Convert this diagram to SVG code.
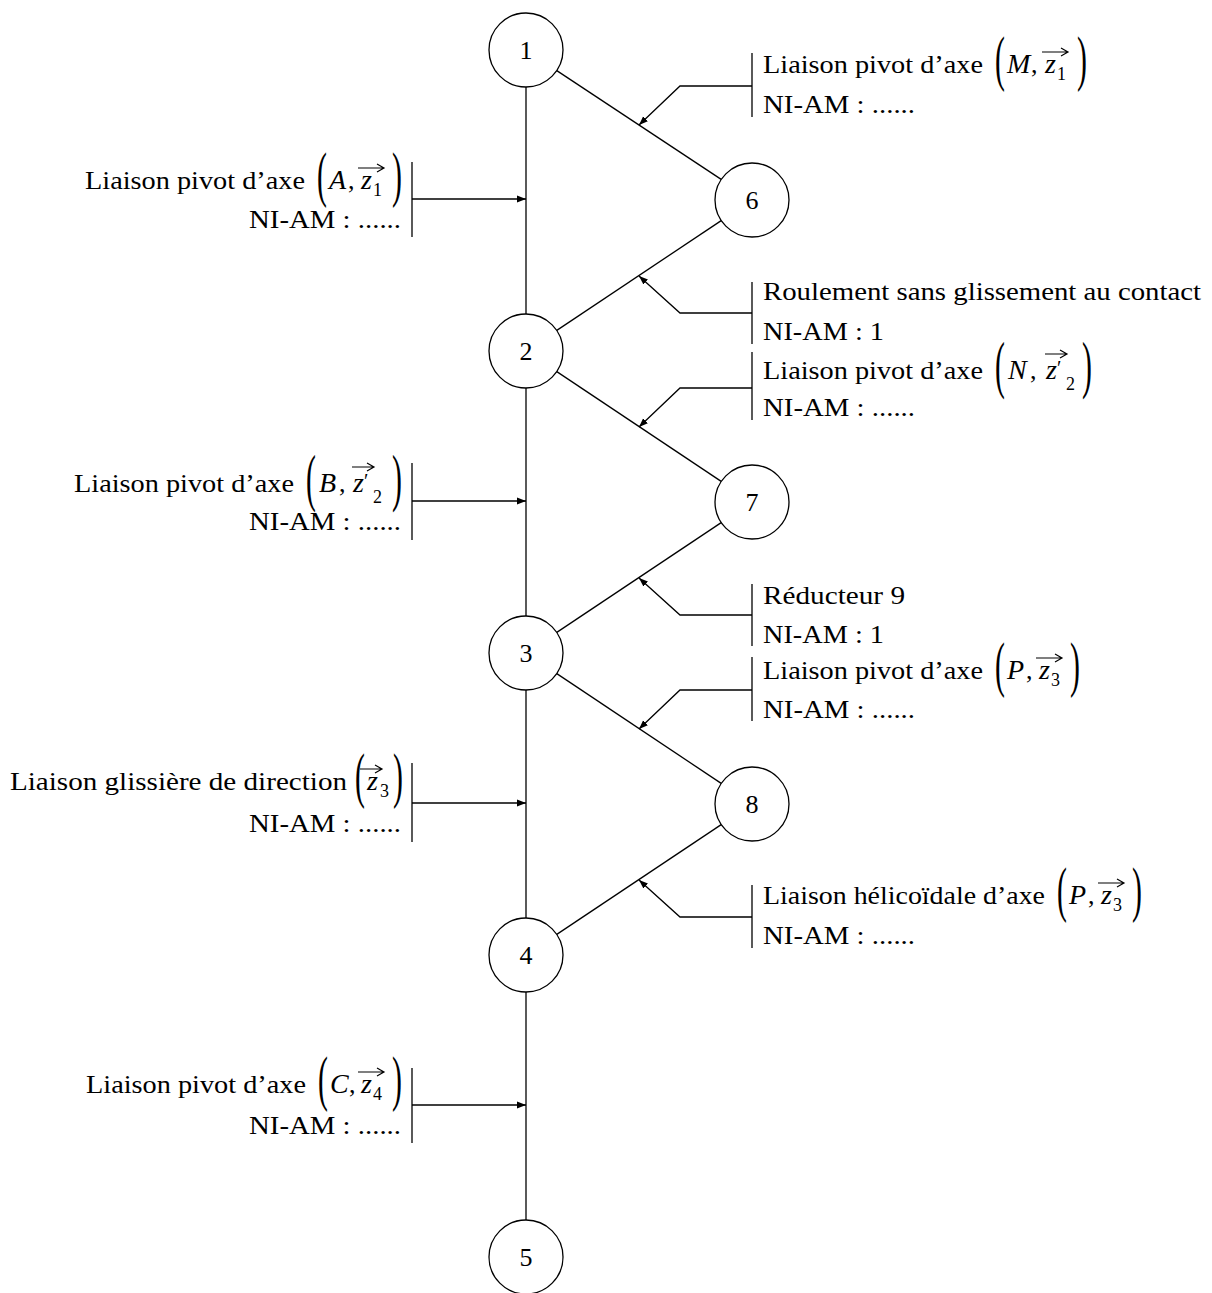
<svg xmlns="http://www.w3.org/2000/svg" width="1212" height="1293" viewBox="0 0 1212 1293">
<style>
text { font-family: "Liberation Serif", "Times New Roman", serif; font-size: 26px; fill: #000; }
.mi { font-style: italic; font-size: 28px; }
.sub { font-size: 18px; }
.par { font-size: 35px; }
.pr { font-size: 20px; }
.num { font-size: 26px; text-anchor: middle; }
.end { text-anchor: end; }
.ln { stroke: #000; stroke-width: 1.3; fill: none; }
.br { stroke: #000; stroke-width: 1.3; }
.vec { stroke: #000; stroke-width: 1.2; fill: none; }
.nd circle { fill: #fff; stroke: #000; stroke-width: 1.3; }
</style>
<defs>
<marker id="ah" markerUnits="userSpaceOnUse" markerWidth="10" markerHeight="8" refX="9" refY="4" orient="auto">
<path d="M0,0.6 L9,4 L0,7.4 Z" fill="#000"/>
</marker>
</defs>

<g id="connectors">
<line class="ln" x1="526" y1="87" x2="526" y2="314"/>
<line class="ln" x1="526" y1="388" x2="526" y2="616"/>
<line class="ln" x1="526" y1="690" x2="526" y2="918"/>
<line class="ln" x1="526" y1="992" x2="526" y2="1220"/>
<line class="ln" x1="556.8" y1="70.6" x2="721.2" y2="179.4"/>
<line class="ln" x1="721.2" y1="220.6" x2="556.8" y2="330.4"/>
<line class="ln" x1="556.8" y1="371.6" x2="721.2" y2="481.4"/>
<line class="ln" x1="721.2" y1="522.6" x2="556.8" y2="632.4"/>
<line class="ln" x1="556.8" y1="673.6" x2="721.2" y2="783.4"/>
<line class="ln" x1="721.2" y1="824.6" x2="556.8" y2="934.4"/>
<path class="ln" d="M752,86 H680 L639,125" marker-end="url(#ah)"/>
<path class="ln" d="M752,313 H680 L639,276" marker-end="url(#ah)"/>
<path class="ln" d="M752,388 H680 L639,427" marker-end="url(#ah)"/>
<path class="ln" d="M752,615 H680 L639,578" marker-end="url(#ah)"/>
<path class="ln" d="M752,690 H680 L639,729" marker-end="url(#ah)"/>
<path class="ln" d="M752,917 H680 L639,880" marker-end="url(#ah)"/>
<path class="ln" d="M412,199 H526" marker-end="url(#ah)"/>
<path class="ln" d="M412,501 H526" marker-end="url(#ah)"/>
<path class="ln" d="M412,803 H526" marker-end="url(#ah)"/>
<path class="ln" d="M412,1105 H526" marker-end="url(#ah)"/>
</g>

<g id="n1" class="nd"><circle cx="526" cy="50" r="37"/><text class="num" x="526" y="59">1</text></g>
<g id="n2" class="nd"><circle cx="526" cy="351" r="37"/><text class="num" x="526" y="360">2</text></g>
<g id="n3" class="nd"><circle cx="526" cy="653" r="37"/><text class="num" x="526" y="662">3</text></g>
<g id="n4" class="nd"><circle cx="526" cy="955" r="37"/><text class="num" x="526" y="964">4</text></g>
<g id="n5" class="nd"><circle cx="526" cy="1257" r="37"/><text class="num" x="526" y="1266">5</text></g>
<g id="n6" class="nd"><circle cx="752" cy="200" r="37"/><text class="num" x="752" y="209">6</text></g>
<g id="n7" class="nd"><circle cx="752" cy="502" r="37"/><text class="num" x="752" y="511">7</text></g>
<g id="n8" class="nd"><circle cx="752" cy="804" r="37"/><text class="num" x="752" y="813">8</text></g>

<g id="lab-1-6">
<line class="br" x1="752" y1="53" x2="752" y2="117"/>
<text x="763" y="73" textLength="220" lengthAdjust="spacingAndGlyphs">Liaison pivot d’axe</text>
<text class="par" transform="translate(995,79) scale(0.85,1.75)">(</text>
<text class="mi" x="1007" y="73">M</text>
<text x="1031" y="73">,</text>
<text class="mi" x="1045" y="73">z</text>
<text class="sub" x="1057" y="80">1</text>
<path class="vec" d="M1042,52 H1068 M1061,48 L1068,52 L1061,56"/>
<text class="par" transform="translate(1077,79) scale(0.85,1.75)">)</text>
<text x="763" y="113" textLength="152" lengthAdjust="spacingAndGlyphs">NI-AM : ......</text>
</g>

<g id="lab-6-2">
<line class="br" x1="752" y1="282" x2="752" y2="344"/>
<text x="763" y="300" textLength="438" lengthAdjust="spacingAndGlyphs">Roulement sans glissement au contact</text>
<text x="763" y="340" textLength="121" lengthAdjust="spacingAndGlyphs">NI-AM : 1</text>
</g>

<g id="lab-2-7">
<line class="br" x1="752" y1="352" x2="752" y2="420"/>
<text x="763" y="379" textLength="220" lengthAdjust="spacingAndGlyphs">Liaison pivot d’axe</text>
<text class="par" transform="translate(995,386) scale(0.85,1.8)">(</text>
<text class="mi" x="1008" y="379">N</text>
<text x="1030" y="379">,</text>
<text class="mi" x="1046" y="379">z</text>
<text class="pr" x="1057" y="375">′</text>
<text class="sub" x="1066" y="390">2</text>
<path class="vec" d="M1045,354 H1067 M1060,350 L1067,354 L1060,358"/>
<text class="par" transform="translate(1082,386) scale(0.85,1.8)">)</text>
<text x="763" y="416" textLength="152" lengthAdjust="spacingAndGlyphs">NI-AM : ......</text>
</g>

<g id="lab-7-3">
<line class="br" x1="752" y1="584" x2="752" y2="646"/>
<text x="763" y="604" textLength="142" lengthAdjust="spacingAndGlyphs">Réducteur 9</text>
<text x="763" y="643" textLength="121" lengthAdjust="spacingAndGlyphs">NI-AM : 1</text>
</g>

<g id="lab-3-8">
<line class="br" x1="752" y1="657" x2="752" y2="721"/>
<text x="763" y="679" textLength="220" lengthAdjust="spacingAndGlyphs">Liaison pivot d’axe</text>
<text class="par" transform="translate(995,685) scale(0.85,1.75)">(</text>
<text class="mi" x="1007" y="679">P</text>
<text x="1026" y="679">,</text>
<text class="mi" x="1039" y="679">z</text>
<text class="sub" x="1051" y="686">3</text>
<path class="vec" d="M1036,658 H1062 M1055,654 L1062,658 L1055,662"/>
<text class="par" transform="translate(1070,685) scale(0.85,1.75)">)</text>
<text x="763" y="718" textLength="152" lengthAdjust="spacingAndGlyphs">NI-AM : ......</text>
</g>

<g id="lab-8-4">
<line class="br" x1="752" y1="885" x2="752" y2="948"/>
<text x="763" y="904" textLength="282" lengthAdjust="spacingAndGlyphs">Liaison hélicoïdale d’axe</text>
<text class="par" transform="translate(1057,910) scale(0.85,1.75)">(</text>
<text class="mi" x="1069" y="904">P</text>
<text x="1088" y="904">,</text>
<text class="mi" x="1101" y="904">z</text>
<text class="sub" x="1113" y="911">3</text>
<path class="vec" d="M1098,883 H1124 M1117,879 L1124,883 L1117,887"/>
<text class="par" transform="translate(1132,910) scale(0.85,1.75)">)</text>
<text x="763" y="944" textLength="152" lengthAdjust="spacingAndGlyphs">NI-AM : ......</text>
</g>

<g id="lab-1-2">
<line class="br" x1="412" y1="162" x2="412" y2="237"/>
<text x="85" y="189" textLength="220" lengthAdjust="spacingAndGlyphs">Liaison pivot d’axe</text>
<text class="par" transform="translate(317,195) scale(0.85,1.75)">(</text>
<text class="mi" x="329" y="189">A</text>
<text x="348" y="189">,</text>
<text class="mi" x="361" y="189">z</text>
<text class="sub" x="373" y="196">1</text>
<path class="vec" d="M358,168 H384 M377,164 L384,168 L377,172"/>
<text class="par" transform="translate(392,195) scale(0.85,1.75)">)</text>
<text class="end" x="401" y="228" textLength="152" lengthAdjust="spacingAndGlyphs">NI-AM : ......</text>
</g>

<g id="lab-2-3">
<line class="br" x1="412" y1="463" x2="412" y2="540"/>
<text x="74" y="492" textLength="220" lengthAdjust="spacingAndGlyphs">Liaison pivot d’axe</text>
<text class="par" transform="translate(306,499) scale(0.85,1.8)">(</text>
<text class="mi" x="319" y="492">B</text>
<text x="339" y="492">,</text>
<text class="mi" x="353" y="492">z</text>
<text class="pr" x="364" y="488">′</text>
<text class="sub" x="373" y="503">2</text>
<path class="vec" d="M352,467 H374 M367,463 L374,467 L367,471"/>
<text class="par" transform="translate(392,499) scale(0.85,1.8)">)</text>
<text class="end" x="401" y="530" textLength="152" lengthAdjust="spacingAndGlyphs">NI-AM : ......</text>
</g>

<g id="lab-3-4">
<line class="br" x1="412" y1="763" x2="412" y2="842"/>
<text x="10" y="790" textLength="337" lengthAdjust="spacingAndGlyphs">Liaison glissière de direction</text>
<text class="par" transform="translate(355,796) scale(0.85,1.75)">(</text>
<text class="mi" x="367" y="790">z</text>
<text class="sub" x="380" y="797">3</text>
<path class="vec" d="M360,769 H382 M375,765 L382,769 L375,773"/>
<text class="par" transform="translate(393,796) scale(0.85,1.75)">)</text>
<text class="end" x="401" y="832" textLength="152" lengthAdjust="spacingAndGlyphs">NI-AM : ......</text>
</g>

<g id="lab-4-5">
<line class="br" x1="412" y1="1068" x2="412" y2="1143"/>
<text x="86" y="1093" textLength="220" lengthAdjust="spacingAndGlyphs">Liaison pivot d’axe</text>
<text class="par" transform="translate(318,1099) scale(0.85,1.75)">(</text>
<text class="mi" x="330" y="1093">C</text>
<text x="349" y="1093">,</text>
<text class="mi" x="361" y="1093">z</text>
<text class="sub" x="373" y="1100">4</text>
<path class="vec" d="M358,1072 H384 M377,1068 L384,1072 L377,1076"/>
<text class="par" transform="translate(392,1099) scale(0.85,1.75)">)</text>
<text class="end" x="401" y="1134" textLength="152" lengthAdjust="spacingAndGlyphs">NI-AM : ......</text>
</g>
</svg>
